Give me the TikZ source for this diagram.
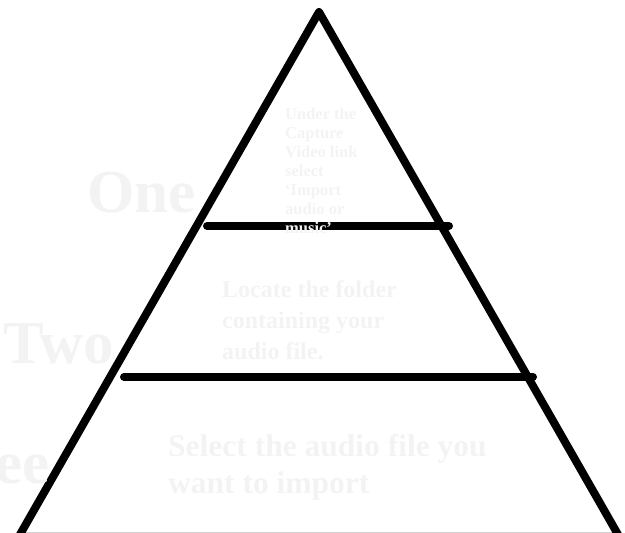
\documentclass[tikz,border=0pt]{standalone}
\usepackage{fontspec}
\setmainfont{Liberation Serif}
\usetikzlibrary{positioning}
\definecolor{ink}{HTML}{000000}
\definecolor{ghost}{HTML}{F3F3F3}
\definecolor{floorline}{HTML}{D2D2D2}

\begin{document}
\begin{tikzpicture}[x=1pt, y=-1pt,
    side/.style={draw=ink, line width=8pt, line join=round},
    tier/.style={draw=ink, line width=8pt, line cap=round},
    floor/.style={draw=floorline, line width=1pt},
    stepno/.style={font=\fontsize{61}{61}\selectfont\bfseries, text=ghost, inner sep=0pt},
    howto/.style={text=ghost, inner sep=0pt, align=left, anchor=base west},
  ]
  \useasboundingbox (0,0) rectangle (625,533);

  % ---------------------------------------------------------------- pyramid
  \coordinate (apex) at (319,12);
  \coordinate (bl) at (18,538);
  \coordinate (br) at (620,538);
  \coordinate (t1l) at (207,226);
  \coordinate (t1r) at (449,226);
  \coordinate (t2l) at (124,377);
  \coordinate (t2r) at (533,377);
  \coordinate (fl) at (20,532.5);
  \coordinate (fr) at (617,532.5);

  \draw[floor] (fl) -- (fr);
  \draw[side] (bl) -- (apex) -- (br);
  \draw[tier] (t1l) -- (t1r);
  \draw[tier] (t2l) -- (t2r);

  % ------------------------------------------------------------ step numbers
  \node[stepno, anchor=base west] (one) at (87,212) {One};
  \node[stepno, anchor=base west] (two) at (3,363) {Two};
  \node[stepno, anchor=base east] (three) at (50,483) {Three};

  % ------------------------------------------------------------ instructions
  % (base = baseline of the last line)
  \node[howto, font=\fontsize{16.5}{19}\selectfont\bfseries] (capture) at (285,233)
    {Under the\\Capture\\Video link\\select\\`Import\\audio or\\music'};
  \node[howto, font=\fontsize{24}{31}\selectfont\bfseries] (locate) at (222,359)
    {Locate the folder\\containing your\\audio file.};
  \node[howto, font=\fontsize{31.5}{37}\selectfont\bfseries] (select) at (168,493)
    {Select the audio file you\\want to import};
\end{tikzpicture}
\end{document}
